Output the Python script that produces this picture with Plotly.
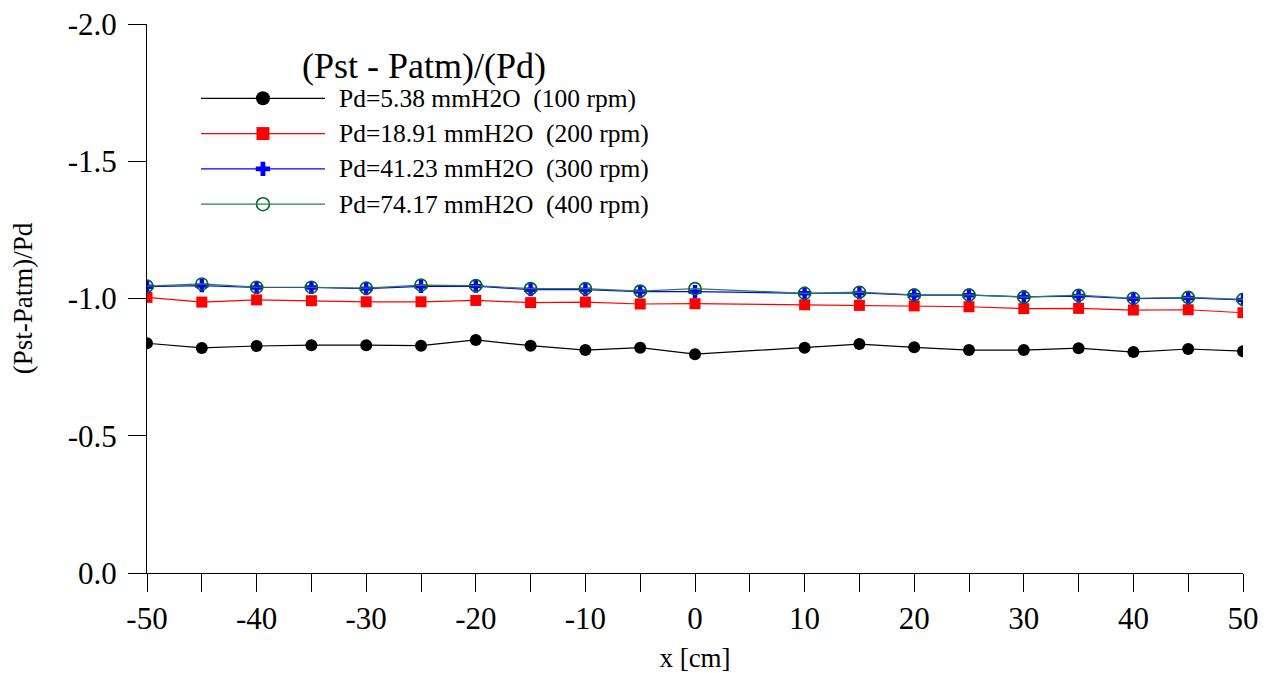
import plotly.graph_objects as go

# ---- data ----
x_cm = [-50, -45, -40, -35, -30, -25, -20, -15, -10, -5, 0, 10, 15, 20, 25, 30, 35, 40, 45, 50]

cp_100rpm = [-0.837, -0.820, -0.827, -0.830, -0.830, -0.828, -0.849, -0.828, -0.812, -0.821,
             -0.797, -0.821, -0.834, -0.822, -0.812, -0.812, -0.819, -0.805, -0.816, -0.808]
cp_200rpm = [-1.004, -0.987, -0.995, -0.992, -0.988, -0.988, -0.993, -0.985, -0.987, -0.980,
             -0.981, -0.977, -0.975, -0.973, -0.970, -0.963, -0.964, -0.958, -0.959, -0.948]
cp_300rpm = [-1.043, -1.047, -1.040, -1.040, -1.036, -1.044, -1.045, -1.032, -1.032, -1.025,
             -1.025, -1.019, -1.020, -1.012, -1.012, -1.006, -1.009, -0.999, -1.002, -0.995]
cp_400rpm = [-1.045, -1.053, -1.041, -1.041, -1.038, -1.049, -1.047, -1.036, -1.036, -1.027,
             -1.036, -1.019, -1.023, -1.013, -1.013, -1.005, -1.012, -1.001, -1.004, -0.997]

series_names = ["Pd=5.38 mmH2O  (100 rpm)", "Pd=18.91 mmH2O  (200 rpm)",
                "Pd=41.23 mmH2O  (300 rpm)", "Pd=74.17 mmH2O  (400 rpm)"]
series_values = [cp_100rpm, cp_200rpm, cp_300rpm, cp_400rpm]

x_tickvals = [-50, -45, -40, -35, -30, -25, -20, -15, -10, -5, 0, 5, 10, 15, 20, 25, 30, 35, 40, 45, 50]
x_ticktext = ["-50", "", "-40", "", "-30", "", "-20", "", "-10", "", "0", "", "10", "", "20", "", "30", "", "40", "", "50"]
y_tickvals = [0.0, -0.5, -1.0, -1.5, -2.0]
y_ticktext = ["0.0", "-0.5", "-1.0", "-1.5", "-2.0"]

legend_title = "(Pst - Patm)/(Pd)"
x_title = "x [cm]"
y_title = "(Pst-Patm)/Pd"

# ---- styles ----
FONT = "Liberation Serif, Times New Roman, serif"
line_colors = ["#000000", "#ff0000", "#0000ff", "#2e7d4f"]
marker_styles = [
    dict(symbol="circle", size=12, color="#000000"),
    dict(symbol="square", size=11, color="#ff0000"),
    dict(symbol="cross", size=11, color="#0000ff"),
    dict(symbol="circle-open", size=12, color="#006633", line=dict(width=1.6, color="#006633")),
]
legend_marker_styles = [
    dict(symbol="circle", size=14, color="#000000"),
    dict(symbol="square", size=13, color="#ff0000"),
    dict(symbol="cross", size=12, color="#0000ff"),
    dict(symbol="circle-open", size=13, color="#006633", line=dict(width=1.6, color="#006633")),
]

fig = go.Figure()
for name, vals, lc, ms in zip(series_names, series_values, line_colors, marker_styles):
    fig.add_trace(go.Scatter(
        x=x_cm, y=vals, mode="lines+markers", name=name,
        line=dict(color=lc, width=1.2), marker=ms, showlegend=False,
    ))

# ---- custom legend (long line keys, as in the reference) ----
leg_x0, leg_x1, leg_mx, leg_tx = 0.0493, 0.1624, 0.1058, 0.1734
leg_y0, leg_dy = 0.8647, 0.0643
shapes = []
annotations = []
for i, (name, lc, ms) in enumerate(zip(series_names, line_colors, legend_marker_styles)):
    yy = leg_y0 - i * leg_dy
    shapes.append(dict(type="line", xref="paper", yref="paper", x0=leg_x0, x1=leg_x1,
                       y0=yy, y1=yy, line=dict(color=lc, width=1.2), layer="above"))
    fig.add_trace(go.Scatter(x=[leg_mx], y=[yy], xaxis="x2", yaxis="y2", mode="markers",
                             marker=ms, showlegend=False, hoverinfo="skip"))
    annotations.append(dict(text=name, xref="paper", yref="paper", x=leg_tx, y=yy,
                            xanchor="left", yanchor="middle", showarrow=False,
                            font=dict(family=FONT, size=25.5, color="black")))
annotations.append(dict(text=legend_title, xref="paper", yref="paper", x=0.2527, y=0.924,
                        xanchor="center", yanchor="middle", showarrow=False,
                        font=dict(family=FONT, size=36, color="black")))

# page body has an 8px margin, so the figure is offset to compensate
fig.update_layout(
    width=1266, height=665,
    margin=dict(l=139, r=31, t=16, b=100),
    paper_bgcolor="white", plot_bgcolor="white",
    font=dict(family=FONT, color="black"),
    shapes=shapes, annotations=annotations,
    xaxis=dict(
        range=[-50, 50], tickmode="array", tickvals=x_tickvals, ticktext=x_ticktext,
        ticks="outside", ticklen=18, tickwidth=1, tickcolor="black",
        showline=True, linecolor="black", linewidth=1, showgrid=False, zeroline=False,
        automargin=False, ticklabeloverflow="allow",
        tickfont=dict(family=FONT, size=31, color="black"),
        title=dict(text=x_title, font=dict(family=FONT, size=27, color="black"), standoff=17),
    ),
    yaxis=dict(
        range=[0, -2], tickmode="array", tickvals=y_tickvals, ticktext=y_ticktext,
        ticks="outside", ticklen=18, tickwidth=1, tickcolor="black",
        showline=True, linecolor="black", linewidth=1, showgrid=False, zeroline=False,
        automargin=False, ticklabelstandoff=5, ticklabeloverflow="allow",
        tickfont=dict(family=FONT, size=31, color="black"),
        title=dict(text=y_title, font=dict(family=FONT, size=27, color="black"), standoff=30),
    ),
    xaxis2=dict(overlaying="x", range=[0, 1], visible=False),
    yaxis2=dict(overlaying="y", range=[0, 1], visible=False),
)

fig.write_html("out.html")
